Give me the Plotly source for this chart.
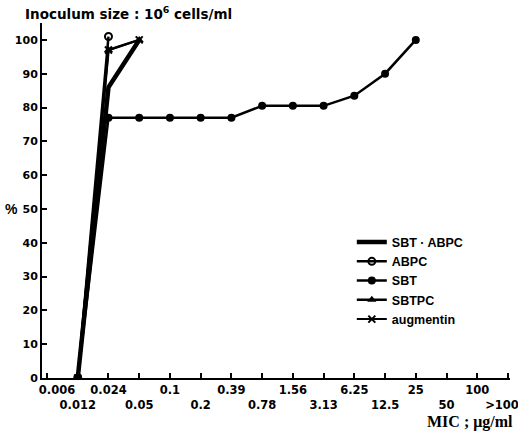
import plotly.graph_objects as go

# Categories (MIC, ug/ml)
mic_labels = ["0.006", "0.012", "0.024", "0.05", "0.1", "0.2", "0.39", "0.78",
              "1.56", "3.13", "6.25", "12.5", "25", "50", "100", ">100"]

# Series (cumulative %)
sbt_abpc_x = ["0.012", "0.024", "0.05"]
sbt_abpc_y = [0, 86, 100]

abpc_x = ["0.012", "0.024"]
abpc_y = [0, 101]

sbt_x = ["0.012", "0.024", "0.05", "0.1", "0.2", "0.39", "0.78", "1.56", "3.13", "6.25", "12.5", "25"]
sbt_y = [0, 77, 77, 77, 77, 77, 80.5, 80.5, 80.5, 83.5, 90, 100]

sbtpc_x = ["0.012", "0.024", "0.05"]
sbtpc_y = [0, 97, 100]

augmentin_x = ["0.012", "0.024", "0.05"]
augmentin_y = [0, 97, 100]

y_ticks = [0, 10, 20, 30, 40, 50, 60, 70, 80, 90, 100]

def idx(xs):
    return [mic_labels.index(v) for v in xs]

FONT = "Liberation Sans"
TICKFONT = "DejaVu Sans"
fig = go.Figure()

fig.add_trace(go.Scatter(x=idx(sbt_abpc_x), y=sbt_abpc_y, mode="lines", name="SBT · ABPC",
                         line=dict(color="black", width=4.5)))
fig.add_trace(go.Scatter(x=idx(abpc_x), y=abpc_y, mode="lines+markers", name="ABPC",
                         line=dict(color="black", width=2.5),
                         marker=dict(symbol="circle-open", size=7, color="black", line=dict(width=2))))
fig.add_trace(go.Scatter(x=idx(sbt_x), y=sbt_y, mode="lines+markers", name="SBT",
                         line=dict(color="black", width=2.5),
                         marker=dict(symbol="circle", size=8, color="black")))
fig.add_trace(go.Scatter(x=idx(sbtpc_x), y=sbtpc_y, mode="lines+markers", name="SBTPC",
                         line=dict(color="black", width=2.5),
                         marker=dict(symbol="triangle-up", size=8, color="black")))
fig.add_trace(go.Scatter(x=idx(augmentin_x), y=augmentin_y, mode="lines+markers", name="augmentin",
                         line=dict(color="black", width=2),
                         marker=dict(symbol="x-thin-open", size=7, color="black", line=dict(width=2, color="black"))))

ticktext = []
for i, lab in enumerate(mic_labels):
    if i == 0:
        ticktext.append("&nbsp;" * 5 + lab)
    elif i == len(mic_labels) - 1:
        ticktext.append("<br>" + lab + "&nbsp;" * 3)
    elif i % 2 == 0:
        ticktext.append(lab)
    else:
        ticktext.append("<br>" + lab)

W, H = 518, 431
L, R, T, B = 42, 8, 23, 53
PW, PH = W - L - R, H - T - B

fig.update_layout(
    width=W, height=H,
    margin=dict(l=L, r=R, t=T, b=B),
    paper_bgcolor="white", plot_bgcolor="white",
    font=dict(family=FONT, color="black", size=12),
    showlegend=True,
    legend=dict(x=0.662, y=0.424, xanchor="left", yanchor="top",
                font=dict(family=FONT, size=12.5, color="black", weight="bold"),
                bgcolor="rgba(0,0,0,0)", tracegroupgap=0, itemwidth=30),
    xaxis=dict(range=[-0.163, 15.065], tickmode="array", automargin=False, tickangle=0,
               tickvals=list(range(len(mic_labels))), ticktext=ticktext,
               ticklabeloverflow="allow",
               showgrid=False, zeroline=False, showline=True, linecolor="black", linewidth=2,
               ticks="inside", ticklen=5, tickwidth=1.5, tickcolor="black",
               tickfont=dict(family=TICKFONT, size=11.5, color="black", weight="bold")),
    yaxis=dict(range=[0, 105.0], tickmode="array", tickvals=y_ticks, automargin=False,
               ticktext=[str(v) for v in y_ticks],
               showgrid=False, zeroline=False, showline=True, linecolor="black", linewidth=2,
               ticks="inside", ticklen=5, tickwidth=1.5, tickcolor="black",
               tickfont=dict(family=TICKFONT, size=11, color="black", weight="bold")),
    annotations=[
        dict(text="<b>Inoculum size : 10<sup>6</sup> cells/ml</b>", xref="paper", yref="paper",
             x=-19 / PW, y=1 + 10 / PH, xanchor="left", yanchor="middle", showarrow=False,
             font=dict(family=TICKFONT, size=13.5, color="black")),
        dict(text="<b>%</b>", xref="paper", yref="y", x=-22 / PW, y=50, xanchor="right",
             yanchor="middle", showarrow=False, font=dict(family=FONT, size=14, color="black")),
        dict(text="<b>MIC ; μg/ml</b>", xref="paper", yref="paper", x=1 + 5 / PW, y=-44 / PH,
             xanchor="right", yanchor="middle", showarrow=False,
             font=dict(family="Liberation Serif", size=16, color="black")),
    ],
)

# Remove the browser's default 8px body margin so the figure fills the window exactly.
fig.write_html("out.html", config={"displayModeBar": False},
               post_script="document.body.style.margin='0';document.body.style.overflow='hidden';")
